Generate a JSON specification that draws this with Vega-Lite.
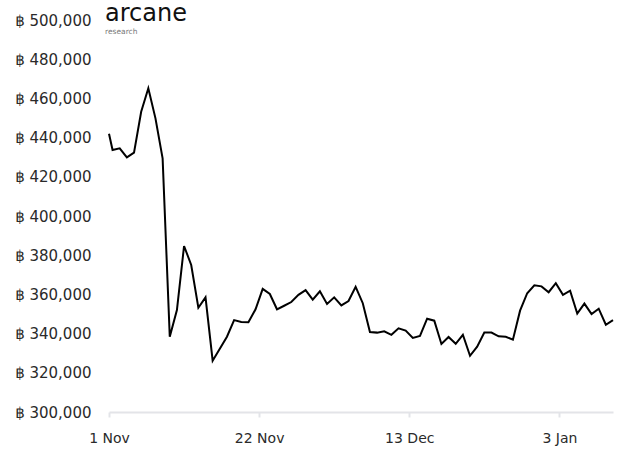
{
  "$schema": "https://vega.github.io/schema/vega-lite/v6.json",
  "width": 504,
  "height": 392,
  "autosize": {"type": "none"},
  "padding": {"left": 109, "top": 20, "right": 10, "bottom": 39},
  "background": "white",
  "config": {"view": {"stroke": null}, "font": "DejaVu Sans"},
  "title": {
    "text": "arcane",
    "subtitle": "research",
    "anchor": "start",
    "frame": "group",
    "offset": -22,
    "dx": -4,
    "fontSize": 24,
    "fontWeight": "normal",
    "font": "DejaVu Sans",
    "color": "#111111",
    "subtitleFont": "DejaVu Sans",
    "subtitleFontSize": 7.5,
    "subtitleColor": "#777777",
    "subtitlePadding": 2
  },
  "data": {
    "values": [
      {"date": "2021-11-01T00:00:00", "price": 442000},
      {"date": "2021-11-01T12:00:00", "price": 433700},
      {"date": "2021-11-02T12:00:00", "price": 434500},
      {"date": "2021-11-03T12:00:00", "price": 429900},
      {"date": "2021-11-04T12:00:00", "price": 432300},
      {"date": "2021-11-05T12:00:00", "price": 453200},
      {"date": "2021-11-06T12:00:00", "price": 465200},
      {"date": "2021-11-07T12:00:00", "price": 449800},
      {"date": "2021-11-08T12:00:00", "price": 429400},
      {"date": "2021-11-09T12:00:00", "price": 338400},
      {"date": "2021-11-10T12:00:00", "price": 352000},
      {"date": "2021-11-11T12:00:00", "price": 384700},
      {"date": "2021-11-12T12:00:00", "price": 375000},
      {"date": "2021-11-13T12:00:00", "price": 353200},
      {"date": "2021-11-14T12:00:00", "price": 358500},
      {"date": "2021-11-15T12:00:00", "price": 326200},
      {"date": "2021-11-16T12:00:00", "price": 332300},
      {"date": "2021-11-17T12:00:00", "price": 338400},
      {"date": "2021-11-18T12:00:00", "price": 346900},
      {"date": "2021-11-19T12:00:00", "price": 345900},
      {"date": "2021-11-20T12:00:00", "price": 345800},
      {"date": "2021-11-21T12:00:00", "price": 352400},
      {"date": "2021-11-22T12:00:00", "price": 362800},
      {"date": "2021-11-23T12:00:00", "price": 360200},
      {"date": "2021-11-24T12:00:00", "price": 352400},
      {"date": "2021-11-25T12:00:00", "price": 354200},
      {"date": "2021-11-26T12:00:00", "price": 356100},
      {"date": "2021-11-27T12:00:00", "price": 359800},
      {"date": "2021-11-28T12:00:00", "price": 362200},
      {"date": "2021-11-29T12:00:00", "price": 357300},
      {"date": "2021-11-30T12:00:00", "price": 361600},
      {"date": "2021-12-01T12:00:00", "price": 355100},
      {"date": "2021-12-02T12:00:00", "price": 358500},
      {"date": "2021-12-03T12:00:00", "price": 354400},
      {"date": "2021-12-04T12:00:00", "price": 356600},
      {"date": "2021-12-05T12:00:00", "price": 363900},
      {"date": "2021-12-06T12:00:00", "price": 355500},
      {"date": "2021-12-07T12:00:00", "price": 340800},
      {"date": "2021-12-08T12:00:00", "price": 340500},
      {"date": "2021-12-09T12:00:00", "price": 341200},
      {"date": "2021-12-10T12:00:00", "price": 339400},
      {"date": "2021-12-11T12:00:00", "price": 342700},
      {"date": "2021-12-12T12:00:00", "price": 341500},
      {"date": "2021-12-13T12:00:00", "price": 337800},
      {"date": "2021-12-14T12:00:00", "price": 338800},
      {"date": "2021-12-15T12:00:00", "price": 347600},
      {"date": "2021-12-16T12:00:00", "price": 346600},
      {"date": "2021-12-17T12:00:00", "price": 334700},
      {"date": "2021-12-18T12:00:00", "price": 338300},
      {"date": "2021-12-19T12:00:00", "price": 334800},
      {"date": "2021-12-20T12:00:00", "price": 339400},
      {"date": "2021-12-21T12:00:00", "price": 328700},
      {"date": "2021-12-22T12:00:00", "price": 333300},
      {"date": "2021-12-23T12:00:00", "price": 340500},
      {"date": "2021-12-24T12:00:00", "price": 340500},
      {"date": "2021-12-25T12:00:00", "price": 338600},
      {"date": "2021-12-26T12:00:00", "price": 338400},
      {"date": "2021-12-27T12:00:00", "price": 336900},
      {"date": "2021-12-28T12:00:00", "price": 351700},
      {"date": "2021-12-29T12:00:00", "price": 360600},
      {"date": "2021-12-30T12:00:00", "price": 364600},
      {"date": "2021-12-31T12:00:00", "price": 364100},
      {"date": "2022-01-01T12:00:00", "price": 361100},
      {"date": "2022-01-02T12:00:00", "price": 365700},
      {"date": "2022-01-03T12:00:00", "price": 359800},
      {"date": "2022-01-04T12:00:00", "price": 361900},
      {"date": "2022-01-05T12:00:00", "price": 350200},
      {"date": "2022-01-06T12:00:00", "price": 355300},
      {"date": "2022-01-07T12:00:00", "price": 350000},
      {"date": "2022-01-08T12:00:00", "price": 352700},
      {"date": "2022-01-09T12:00:00", "price": 344500},
      {"date": "2022-01-10T12:00:00", "price": 346900}
    ]
  },
  "mark": {"type": "line", "color": "#000000", "strokeWidth": 2, "strokeJoin": "miter"},
  "encoding": {
    "x": {
      "field": "date",
      "type": "temporal",
      "scale": {"domain": [{"year": 2021, "month": 11, "date": 1}, {"year": 2022, "month": 1, "date": 10, "hours": 12}]},
      "axis": {
        "title": null,
        "grid": false,
        "values": [
          {"year": 2021, "month": 11, "date": 1},
          {"year": 2021, "month": 11, "date": 22},
          {"year": 2021, "month": 12, "date": 13},
          {"year": 2022, "month": 1, "date": 3}
        ],
        "format": "%-d %b",
        "domainColor": "#e3e4e8",
        "domainWidth": 2,
        "tickColor": "#e3e4e8",
        "tickWidth": 2,
        "tickSize": 5,
        "labelPadding": 14,
        "labelFontSize": 14,
        "labelColor": "#2a2a2a",
        "labelFont": "DejaVu Sans",
        "labelFlush": false
      }
    },
    "y": {
      "field": "price",
      "type": "quantitative",
      "scale": {"domain": [300000, 500000], "nice": false, "zero": false},
      "axis": {
        "title": null,
        "grid": false,
        "domain": false,
        "ticks": false,
        "values": [300000, 320000, 340000, 360000, 380000, 400000, 420000, 440000, 460000, 480000, 500000],
        "labelExpr": "'฿ ' + format(datum.value, ',')",
        "labelPadding": 18,
        "labelFontSize": 15,
        "labelColor": "#2a2a2a",
        "labelFont": "DejaVu Sans"
      }
    }
  }
}
